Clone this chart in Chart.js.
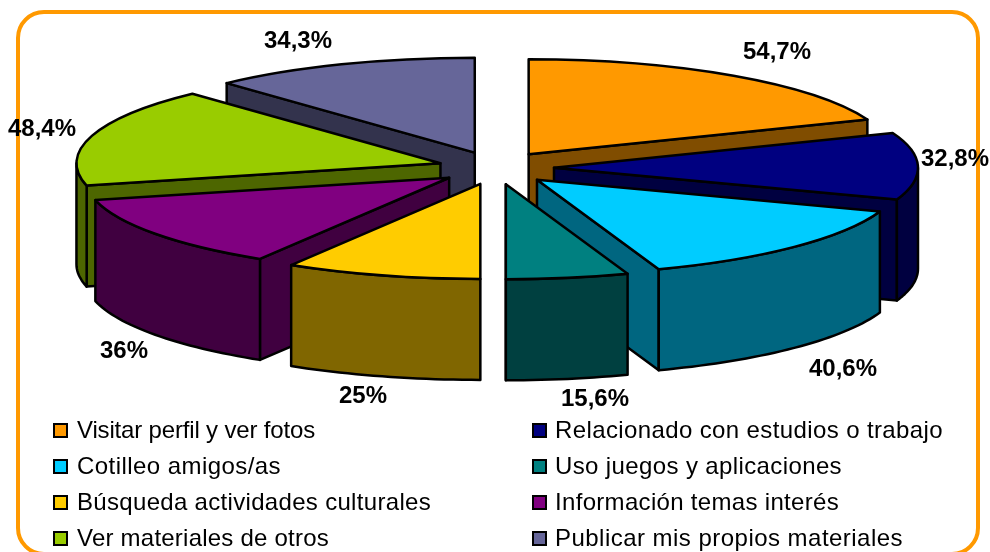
<!DOCTYPE html>
<html>
<head>
<meta charset="utf-8">
<style>html,body{margin:0;padding:0;background:#fff}canvas{display:block}</style>
<script src="https://cdn.jsdelivr.net/npm/chart.js@4"></script>
</head>
<body>
<canvas id="c" width="990" height="552"></canvas>
<script>
const categories = ['Visitar perfil y ver fotos','Relacionado con estudios o trabajo','Cotilleo amigos/as','Uso juegos y aplicaciones','Búsqueda actividades culturales','Información temas interés','Ver materiales de otros','Publicar mis propios materiales'];
const values = [54.7,32.8,40.6,15.6,25,36,48.4,34.3];
const topColors = ['#FF9900','#000080','#00CCFF','#008080','#FFCC00','#800080','#99CC00','#666699'];
const sideColors = ['#804D00','#000040','#006680','#004040','#806600','#400040','#4D6600','#33334D'];
const labelCentres = [[777,52],[955,159],[843,369],[595,399],[363,396],[124,351],[42,129],[298,41]];
const legendWidths = [238,388,204,287,354,284,252,348];

const PIE = {cx:496, cy:168, radius:364, squash:95/364, depth:101, explodeX:58, explodeY:16.5};

function visibleWalls(ctx, a, i) {
  const {startAngle:s, endAngle:e, outerRadius:R} = a;
  const mid = (s+e)/2;
  const ax = PIE.cx + Math.cos(mid)*PIE.explodeX, ay = PIE.cy + Math.sin(mid)*PIE.explodeY;
  const pt = (t,z) => [ax + R*Math.cos(t), ay + PIE.squash*R*Math.sin(t) + z];
  const poly = pts => {
    ctx.beginPath();
    pts.forEach((p,k)=> k ? ctx.lineTo(p[0],p[1]) : ctx.moveTo(p[0],p[1]));
    ctx.closePath();
    ctx.fillStyle = sideColors[i];
    ctx.fill();
    ctx.stroke();
  };
  ctx.strokeStyle = '#000'; ctx.lineWidth = 2.5; ctx.lineJoin = 'round';
  if (Math.sin(s-Math.PI/2) > 0) poly([[ax,ay],pt(s,0),pt(s,PIE.depth),[ax,ay+PIE.depth]]);
  if (Math.sin(e+Math.PI/2) > 0) poly([[ax,ay],pt(e,0),pt(e,PIE.depth),[ax,ay+PIE.depth]]);
  // front-facing part of the rim
  const frontParts = [];
  for (let k=-1;k<=1;k++){
    const lo = Math.max(s, k*2*Math.PI), hi = Math.min(e, k*2*Math.PI+Math.PI);
    if (hi>lo) frontParts.push([lo,hi]);
  }
  frontParts.forEach(([lo,hi])=>{
    const up=[],down=[];
    const n=Math.max(8,Math.ceil((hi-lo)*40));
    for(let j=0;j<=n;j++){const t=lo+(hi-lo)*j/n;up.push(pt(t,0));down.unshift(pt(t,PIE.depth));}
    poly(up.concat(down));
  });
  // top face: filled by the library's own arc, outlined with an even-width pen
  ctx.save();
  ctx.translate(ax,ay);
  ctx.scale(1,PIE.squash);
  ctx.translate(-a.x,-a.y);
  a.draw(ctx);
  ctx.beginPath();
  ctx.moveTo(a.x,a.y);
  ctx.arc(a.x,a.y,R,s,e);
  ctx.closePath();
  ctx.restore();
  ctx.stroke();
}

const pie3d = {
  id:'pie3d',
  beforeDraw(chart){
    const ctx=chart.ctx;
    ctx.save();ctx.fillStyle='#fff';ctx.fillRect(0,0,chart.width,chart.height);ctx.restore();
  },
  beforeDatasetDraw(chart){
    const ctx=chart.ctx, arcs=chart.getDatasetMeta(0).data;
    const order=arcs.map((a,i)=>i).sort((p,q)=>
      Math.sin((arcs[p].startAngle+arcs[p].endAngle)/2)-Math.sin((arcs[q].startAngle+arcs[q].endAngle)/2));
    ctx.save();
    order.forEach(i=>visibleWalls(ctx,arcs[i],i));
    ctx.restore();
    return false;
  },
  afterDraw(chart){
    const ctx=chart.ctx;
    ctx.save();
    // frame
    ctx.strokeStyle='#FF9900';ctx.lineWidth=4;
    ctx.beginPath();ctx.roundRect(18,12,960,542,26);ctx.stroke();
    // legend
    const baselines=[438,474,510,546];
    ctx.textBaseline='alphabetic';ctx.textAlign='left';
    categories.forEach((name,i)=>{
      const col=i%2,row=Math.floor(i/2);
      const bx=col?533:54,tx=col?555:77,base=baselines[row];
      ctx.fillStyle=topColors[i];ctx.strokeStyle='#000';ctx.lineWidth=2;
      ctx.fillRect(bx,base-14,13,13);ctx.strokeRect(bx,base-14,13,13);
      ctx.fillStyle='#000';
      ctx.font='24px "Liberation Sans"';
      ctx.letterSpacing='0px';
      const w=ctx.measureText(name).width;
      ctx.letterSpacing=((legendWidths[i]-w)/name.length).toFixed(3)+'px';
      ctx.fillText(name,tx,base);
    });
    // data labels
    ctx.letterSpacing='0px';
    ctx.textBaseline='middle';
    ctx.font='bold 24px "Liberation Sans"';ctx.textAlign='center';ctx.fillStyle='#000';
    values.forEach((v,i)=>{
      ctx.fillText(String(v).replace('.',',')+'%',labelCentres[i][0],labelCentres[i][1]);
    });
    ctx.restore();
  }
};

new Chart(document.getElementById('c'),{
  type:'pie',
  data:{labels:categories,datasets:[{data:values,backgroundColor:topColors,borderWidth:0,radius:PIE.radius}]},
  options:{responsive:false,animation:false,events:[],
    plugins:{legend:{display:false},tooltip:{enabled:false}}},
  plugins:[pie3d]
});
</script>
</body>
</html>
